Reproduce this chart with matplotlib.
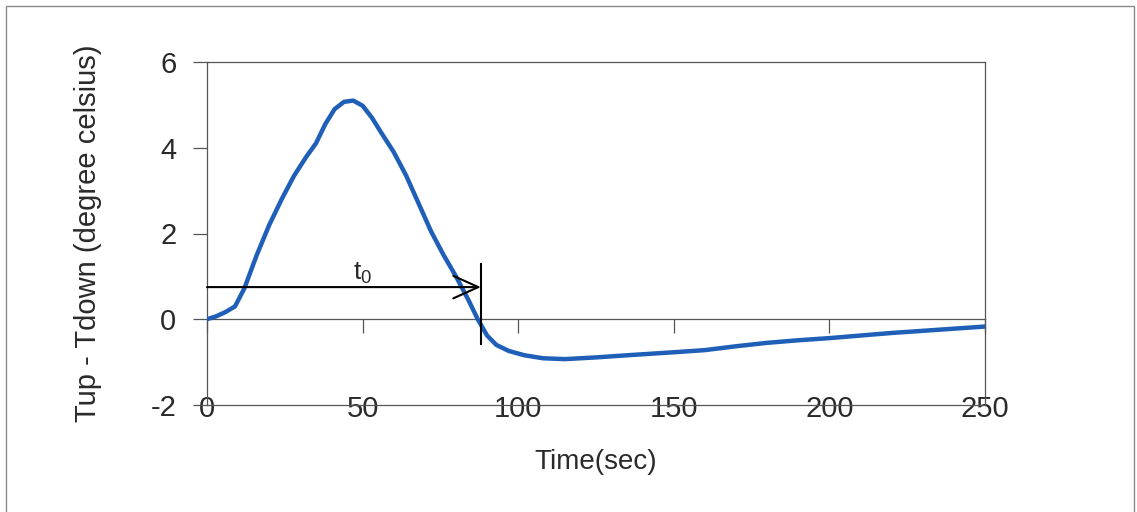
import matplotlib
matplotlib.use("Agg")
import matplotlib.pyplot as plt
from matplotlib.patches import Rectangle

plt.rcParams['font.family'] = ['Liberation Sans', 'DejaVu Sans']
plt.rcParams['axes.unicode_minus'] = False

# ---- data ----
time_sec = [0, 3, 6, 9, 12, 16, 20, 24, 28, 32, 35, 38, 41, 44, 47, 50, 53, 56,
            60, 64, 68, 72, 76, 80, 84, 87, 90, 93, 97, 102, 108, 115, 125, 135,
            150, 160, 170, 180, 190, 200, 210, 220, 230, 240, 250]
delta_t = [0.0, 0.07, 0.17, 0.30, 0.72, 1.5, 2.2, 2.8, 3.35, 3.8, 4.1, 4.55, 4.9,
           5.07, 5.1, 4.98, 4.7, 4.35, 3.9, 3.35, 2.7, 2.05, 1.5, 1.0, 0.45, 0.0,
           -0.38, -0.6, -0.74, -0.84, -0.91, -0.93, -0.89, -0.84, -0.77, -0.72,
           -0.63, -0.55, -0.49, -0.44, -0.38, -0.32, -0.27, -0.22, -0.17]
x_ticks = [0, 50, 100, 150, 200, 250]
y_ticks = [-2, 0, 2, 4, 6]

t0_value = 88
arrow_level = 0.75
marker_top = 1.30
marker_bottom = -0.57
t0_label_pos = (50, 0.78)

# ---- figure ----
fig = plt.figure(figsize=(11.37, 5.12), dpi=100)
fig.patch.set_facecolor('white')
W, H = 1137, 512
fig.add_artist(Rectangle((6 / W, -0.05), (1134 - 6) / W, 1.05 - 6 / H,
                         transform=fig.transFigure, fill=False,
                         edgecolor='#8a8a8a', lw=1.0))

ax = fig.add_axes([207 / W, 1 - 405 / H, (985 - 207) / W, (405 - 62) / H])
ax.set_xlim(0, 250)
ax.set_ylim(-2, 6)

frame_col = '#555555'
text_col = '#2a2a2a'
for s in ax.spines.values():
    s.set_color(frame_col)
    s.set_linewidth(0.9)

ax.plot(time_sec, delta_t, color='#1f5fb8', lw=3.2, solid_capstyle='round',
        solid_joinstyle='round', zorder=3)

# y axis
ax.set_yticks(y_ticks)
ax.tick_params(axis='y', direction='out', length=10, width=0.9, color=frame_col,
               labelsize=21, labelcolor=text_col, pad=12)

# x labels on bottom border, no tick marks there
ax.set_xticks(x_ticks)
ax.tick_params(axis='x', length=0, labelsize=21, labelcolor=text_col, pad=-7)

# x axis line at y = 0 with tick marks
sec = ax.secondary_xaxis(0.25)
sec.set_xticks(x_ticks)
sec.tick_params(axis='x', direction='out', length=10, width=0.9,
                color=frame_col, labelbottom=False)
sec.spines['bottom'].set_color(frame_col)
sec.spines['bottom'].set_linewidth(0.9)

ax.set_xlabel('Time(sec)', fontsize=20, color=text_col)
ax.xaxis.set_label_coords(0.5, -0.166)
ax.xaxis.label.set_va('center')
ax.set_ylabel('Tup - Tdown (degree celsius)', fontsize=21, color=text_col)
ax.yaxis.set_label_coords(-0.153, 0.5)
ax.yaxis.label.set_va('center')

# t0 annotation
ax.annotate('', xy=(t0_value, arrow_level), xytext=(0, arrow_level),
            arrowprops=dict(arrowstyle='->,head_length=1.0,head_width=0.45',
                            lw=1.5, color='black', mutation_scale=18,
                            shrinkA=0, shrinkB=0), zorder=4)
ax.plot([t0_value, t0_value], [marker_bottom, marker_top], color='black',
        lw=1.5, zorder=4)
ax.text(t0_label_pos[0], t0_label_pos[1], r'$\mathregular{t_0}$', fontsize=19,
        ha='center', va='bottom', color=text_col)

fig.savefig('out.png', dpi=100)
